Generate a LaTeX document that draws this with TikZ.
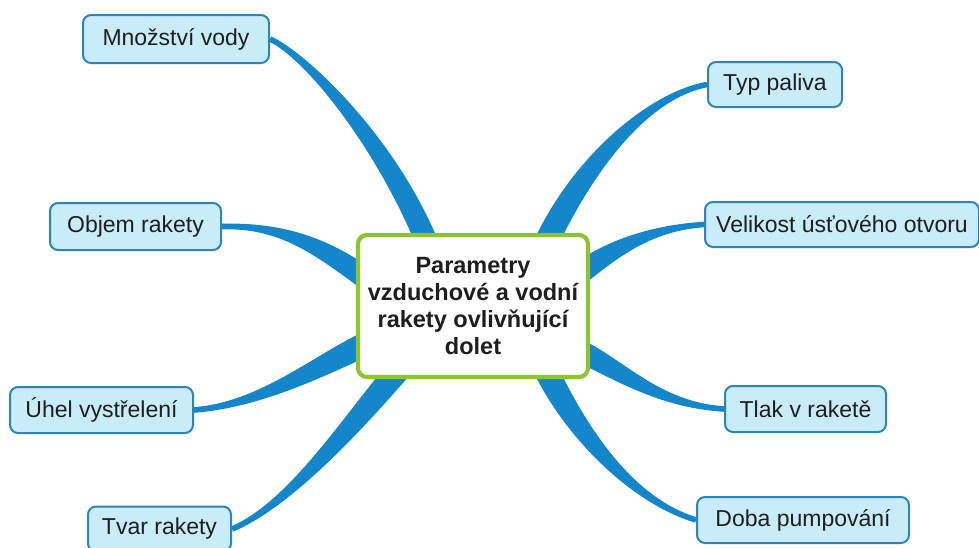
\documentclass[tikz,border=0pt]{standalone}
\usepackage{fontspec}
\setmainfont{Liberation Sans}
\usetikzlibrary{calc,backgrounds}
\definecolor{branchblue}{RGB}{22,134,202}
\definecolor{leaffill}{RGB}{200,236,250}
\definecolor{leafborder}{RGB}{45,132,182}
\definecolor{hubgreen}{RGB}{141,196,50}
\definecolor{txt}{RGB}{30,30,30}
\tikzset{
  leaf/.style={draw=leafborder, fill=leaffill, line width=2pt, rounded corners=8pt,
    text=txt, font=\fontsize{23}{27}\selectfont, inner sep=0pt},
  hub/.style={draw=hubgreen, fill=white, line width=4.2pt, rounded corners=9pt,
    text=txt, font=\bfseries\fontsize{23.5}{27}\selectfont, align=center,
    minimum width=230pt, minimum height=142pt, inner sep=0pt},
  branchfill/.style={fill=branchblue}
}
\newcommand\taper[6]{%
  \coordinate (tA) at #1;
  \coordinate (tC1) at #2;
  \coordinate (tC2) at #3;
  \coordinate (tB) at #4;
  \coordinate (tA1) at ($(tA)!#5pt!90:(tC1)$);
  \coordinate (tA2) at ($(tA)!#5pt!-90:(tC1)$);
  \coordinate (tB1) at ($(tB)!#6pt!-90:(tC2)$);
  \coordinate (tB2) at ($(tB)!#6pt!90:(tC2)$);
  \fill[branchfill] (tA1) .. controls ($(tC1)+(tA1)-(tA)$) and ($(tC2)+(tB1)-(tB)$) .. (tB1)
    -- (tB2) .. controls ($(tC2)+(tB2)-(tB)$) and ($(tC1)+(tA2)-(tA)$) .. (tA2) -- cycle;
}
\begin{document}
\begin{tikzpicture}[x=1pt,y=-1pt]
\useasboundingbox (0,0) rectangle (979,547);
% central node
\node[hub] (c) at (473,306) {Parametry\\vzduchové a vodní\\rakety ovlivňující\\dolet};
% leaves
\node[leaf, minimum width=186pt, minimum height=48pt] (m) at (176,39) {Množství vody};
\node[leaf, minimum width=171pt, minimum height=47pt] (o) at (135.5,226.5) {Objem rakety};
\node[leaf, minimum width=183pt, minimum height=46pt] (u) at (101.5,410) {Úhel vystřelení};
\node[leaf, minimum width=143pt, minimum height=45pt] (t) at (159.5,529) {Tvar rakety};
\node[leaf, minimum width=134pt, minimum height=45pt] (tp) at (775,84.5) {Typ paliva};
\node[leaf, minimum width=274pt, minimum height=45pt] (vo) at (842,224.5) {Velikost úsťového otvoru};
\node[leaf, minimum width=161pt, minimum height=46pt] (tl) at (805.5,409) {Tlak v raketě};
\node[leaf, minimum width=212pt, minimum height=46pt] (dp) at (803,520) {Doba pumpování};
% branches
\begin{pgfonlayer}{background}
\fill[white] (0,0) rectangle (979,547);
\taper{(m.east)}{(305,55)}{(385,140)}{($(c.center)+(-45,-61)$)}{2.8}{11}
\taper{(o.east)}{(280,225)}{(320,245)}{($(c.center)+(-105,-26)$)}{2.8}{11}
\taper{(u.east)}{(260,405)}{(320,365)}{($(c.center)+(-105,37)$)}{2.8}{12}
\taper{(t.east)}{(290,505)}{(355,420)}{($(c.center)+(-73,62)$)}{2.8}{12}
\taper{(tp.west)}{(650,95)}{(585,160)}{($(c.center)+(72,-61)$)}{2.8}{12}
\taper{(vo.west)}{(650,228)}{(610,250)}{($(c.center)+(105,-31)$)}{2.8}{11}
\taper{(tl.west)}{(660,405)}{(620,370)}{($(c.center)+(105,44)$)}{2.8}{11}
\taper{(dp.west)}{(630,500)}{(575,430)}{($(c.center)+(72,62)$)}{2.8}{12}
\end{pgfonlayer}
\end{tikzpicture}
\end{document}
